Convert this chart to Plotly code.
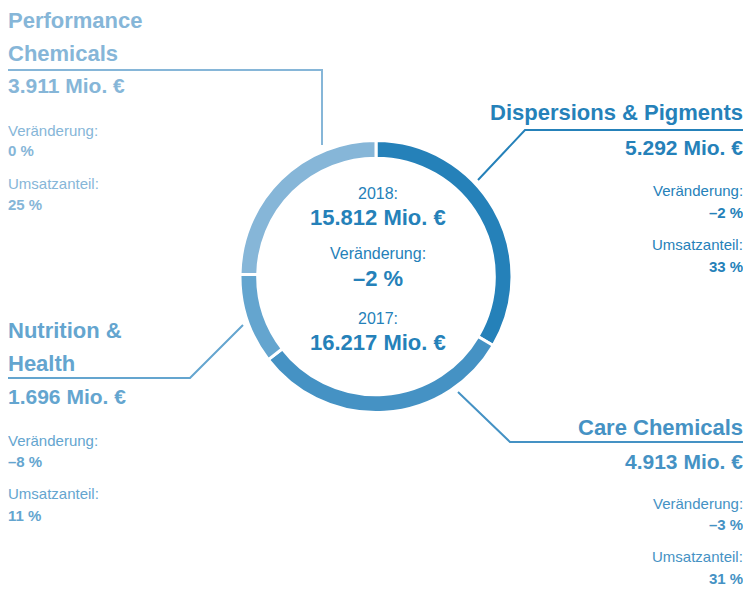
import plotly.graph_objects as go

W, H = 751, 592
M = 8  # page body margin
FW, FH = W - 2 * M, H - 2 * M

segments = ["Dispersions & Pigments", "Care Chemicals", "Nutrition & Health", "Performance Chemicals"]
umsatz = [5292, 4913, 1696, 3911]
colors = ["#2581b9", "#4592c4", "#64a5cf", "#86b6d8"]

def px(x):
    return (x - M) / FW

def py(y):
    return 1 - (y - M) / FH

fig = go.Figure()
fig.add_trace(go.Pie(
    labels=segments, values=umsatz, hole=0.87, sort=False, direction="clockwise",
    rotation=0, marker=dict(colors=colors, line=dict(color="white", width=3)),
    textinfo="none", hoverinfo="label+value", showlegend=False,
    domain=dict(x=[px(240), px(512)], y=[py(413), py(140)]),
))

# leader lines
lines = [
    ([322, 322, M], [145, 70, 70], colors[3]),
    ([478, 525, W - M], [180, 130, 130], colors[0]),
    ([458, 510, W - M], [392, 442, 442], colors[1]),
    ([243, 190, M], [325, 378, 378], colors[2]),
]
for xs, ys, c in lines:
    path = "M %f %f" % (px(xs[0]), py(ys[0]))
    for x, y in zip(xs[1:], ys[1:]):
        path += " L %f %f" % (px(x), py(y))
    fig.add_shape(type="path", path=path, xref="paper", yref="paper",
                  line=dict(color=c, width=2))

F = "Liberation Sans, Arial, sans-serif"

def txt(x, y, s, c, size, bold=False, anchor="left"):
    if bold:
        s = "<b>" + s + "</b>"
    fig.add_annotation(x=px(x), y=py(y), xref="paper", yref="paper", text=s,
                       showarrow=False, xanchor=anchor, yanchor="middle",
                       xshift=-2 if anchor == "left" else 2,
                       font=dict(family=F, size=size, color=c))

blocks = [
    (M, "left", colors[3], ["Performance", "Chemicals"], [20, 53], "3.911 Mio. €", 86, "0 %", "25 %", 130),
    (W - M, "right", colors[0], ["Dispersions & Pigments"], [113], "5.292 Mio. €", 147, "–2 %", "33 %", 191),
    (M, "left", colors[2], ["Nutrition &", "Health"], [330, 363], "1.696 Mio. €", 396, "–8 %", "11 %", 440),
    (W - M, "right", colors[1], ["Care Chemicals"], [427], "4.913 Mio. €", 461, "–3 %", "31 %", 503),
]
for x, a, c, titles, tys, val, vy, ver, ant, ly in blocks:
    for t, ty in zip(titles, tys):
        txt(x, ty, t, c, 22, True, a)
    txt(x, vy, val, c, 21, True, a)
    txt(x, ly, "Veränderung:", c, 15, False, a)
    txt(x, ly + 21, ver, c, 15, True, a)
    txt(x, ly + 53, "Umsatzanteil:", c, 15, False, a)
    txt(x, ly + 75, ant, c, 15, True, a)

cx = 376
txt(cx, 193, "2018:", colors[0], 16, False, "center")
txt(cx, 217, "15.812 Mio. €", colors[0], 22, True, "center")
txt(cx, 253, "Veränderung:", colors[0], 16, False, "center")
txt(cx, 278, "–2 %", colors[0], 22, True, "center")
txt(cx, 318, "2017:", colors[0], 16, False, "center")
txt(cx, 342, "16.217 Mio. €", colors[0], 22, True, "center")

fig.update_layout(width=FW, height=FH, margin=dict(l=0, r=0, t=0, b=0),
                  paper_bgcolor="white", plot_bgcolor="white")
fig.write_html("out.html")
